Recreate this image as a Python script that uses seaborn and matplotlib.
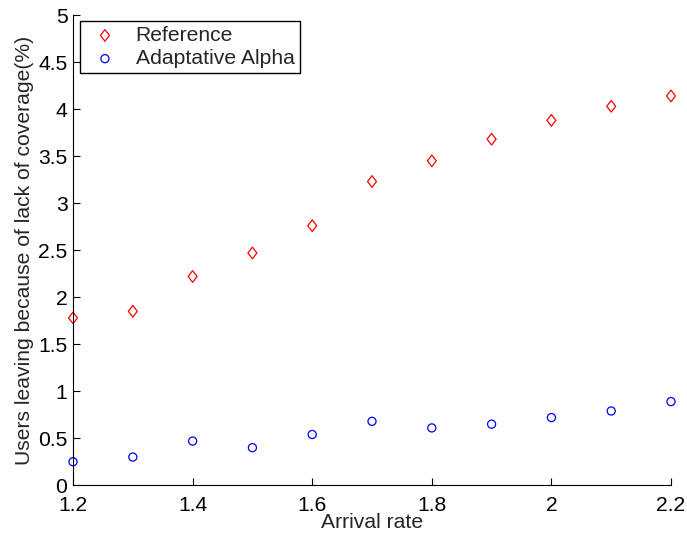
import matplotlib
matplotlib.use("Agg")
import matplotlib.pyplot as plt
from matplotlib.path import Path
from matplotlib.ticker import FuncFormatter
import seaborn as sns
import numpy as np

arrival_rate = [1.2, 1.3, 1.4, 1.5, 1.6, 1.7, 1.8, 1.9, 2.0, 2.1, 2.2]
reference = [1.78, 1.85, 2.22, 2.47, 2.76, 3.23, 3.45, 3.68, 3.88, 4.03, 4.14]
adaptive_alpha = [0.25, 0.30, 0.47, 0.40, 0.54, 0.68, 0.61, 0.65, 0.72, 0.79, 0.89]

x_ticks = [1.2, 1.4, 1.6, 1.8, 2.0, 2.2]
y_ticks = [0, 0.5, 1, 1.5, 2, 2.5, 3, 3.5, 4, 4.5, 5]

sns.set_style("ticks")
plt.rcParams["font.family"] = ["Liberation Sans", "DejaVu Sans"]
FS = 15.2

fig = plt.figure(figsize=(6.87, 5.38), dpi=100)
ax = fig.add_axes([0.1063, 0.098, 0.8704, 0.874])

diamond = Path([(0, 1), (0.77, 0), (0, -1), (-0.77, 0), (0, 1)],
               [Path.MOVETO, Path.LINETO, Path.LINETO, Path.LINETO, Path.CLOSEPOLY])

sns.scatterplot(x=arrival_rate, y=reference, marker=diamond, s=70,
                facecolor="none", edgecolor="#ff0000", linewidth=0.9,
                label="Reference", ax=ax, clip_on=False)
sns.scatterplot(x=arrival_rate, y=adaptive_alpha, marker="o", s=34,
                facecolor="none", edgecolor="#0000ff", linewidth=0.9,
                label="Adaptative Alpha", ax=ax, clip_on=False)

ax.set_xlim(1.2, 2.2)
ax.set_ylim(0, 5)
ax.set_xticks(x_ticks)
ax.set_yticks(y_ticks)
fmt = FuncFormatter(lambda v, p: "%g" % v)
ax.xaxis.set_major_formatter(fmt)
ax.yaxis.set_major_formatter(fmt)
ax.tick_params(direction="in", length=5, width=0.8, labelsize=FS, colors="black")
ax.tick_params(axis="x", pad=8)
ax.tick_params(axis="y", pad=4)
for side in ["top", "right"]:
    ax.spines[side].set_visible(False)
for side in ["left", "bottom"]:
    ax.spines[side].set_color("black")
    ax.spines[side].set_linewidth(0.8)

ax.set_xlabel("Arrival rate", fontsize=FS, labelpad=-2)
ax.set_ylabel("Users leaving because of lack of coverage(%)", fontsize=FS, labelpad=3)

leg = ax.legend(loc="upper left", bbox_to_anchor=(0.011, 0.988), fontsize=FS,
                fancybox=False, framealpha=1, edgecolor="black",
                handletextpad=0.5, borderpad=0.25, labelspacing=0.2,
                scatterpoints=1, handlelength=1.9, borderaxespad=0)
leg.get_frame().set_linewidth(1.0)

fig.savefig("out.png", dpi=100)
